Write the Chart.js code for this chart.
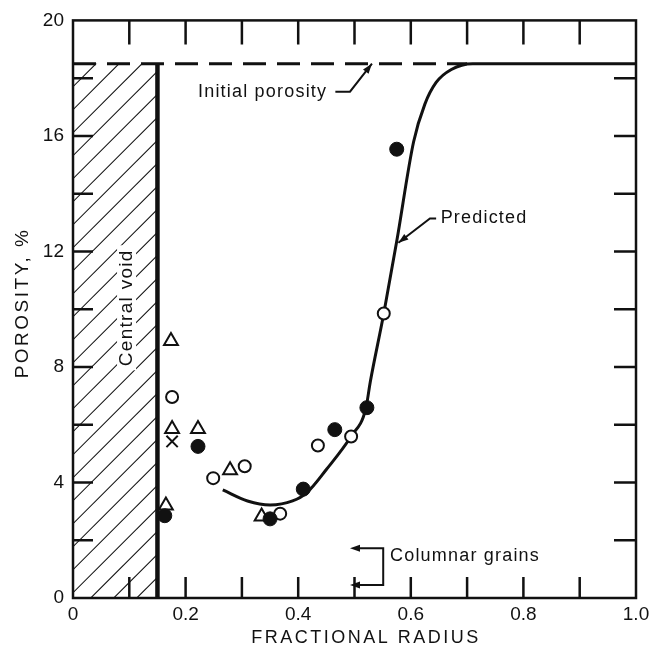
<!DOCTYPE html>
<html>
<head>
<meta charset="utf-8">
<title>Porosity vs fractional radius</title>
<script src="https://cdn.jsdelivr.net/npm/chart.js@4.4.0/dist/chart.umd.min.js"></script>
<style>
  html, body { margin: 0; padding: 0; background: #fff; }
  #wrap { width: 656px; height: 649px; }
</style>
</head>
<body>
<div id="wrap"><canvas id="porosityChart" width="656" height="649"></canvas></div>
<script>
const openCircleX = [0.176, 0.249, 0.305, 0.368, 0.435, 0.494, 0.552];
const openCircleY = [6.96, 4.15, 4.56, 2.92, 5.28, 5.59, 9.85];

const filledCircleX = [0.163, 0.222, 0.35, 0.409, 0.465, 0.522, 0.575];
const filledCircleY = [2.85, 5.25, 2.74, 3.77, 5.83, 6.59, 15.54];

const triangleX = [0.174, 0.176, 0.222, 0.165, 0.279, 0.335];
const triangleY = [8.9, 5.85, 5.85, 3.2, 4.42, 2.82];

const crossX = [0.176];
const crossY = [5.42];

// Predicted curve
const predictedX = [0.266, 0.31, 0.35, 0.39, 0.415, 0.45, 0.494, 0.52, 0.528, 0.552, 0.575, 0.605, 0.625, 0.645, 0.672, 0.71, 1.0];
const predictedY = [3.74, 3.36, 3.22, 3.36, 3.64, 4.45, 5.6, 6.55, 7.48, 9.85, 12.35, 15.8, 17.1, 17.85, 18.3, 18.5, 18.5];

const initialPorosity = 18.5;
const dashedEndX = 0.70;
const voidRadius = 0.15;

// Axis ticks
const xTicks = [0, 0.2, 0.4, 0.6, 0.8, 1.0];
const yTicks = [0, 4, 8, 12, 16, 20];
const xMinorTicks = [0.1, 0.2, 0.3, 0.4, 0.5, 0.6, 0.7, 0.8, 0.9];
const yMinorTicks = [2, 4, 6, 8, 10, 12, 14, 16, 18];

const FONT = '"Liberation Sans", Arial, Helvetica, sans-serif';
const INK = '#111';

const pts = (xs, ys) => xs.map((v, i) => ({ x: v, y: ys[i] }));

function arrowHead(ctx, fx, fy, tx, ty) {
    const a = Math.atan2(ty - fy, tx - fx);
    const len = 10, half = 3.5;
    ctx.beginPath();
    ctx.moveTo(tx, ty);
    ctx.lineTo(tx - len * Math.cos(a) + half * Math.sin(a), ty - len * Math.sin(a) - half * Math.cos(a));
    ctx.lineTo(tx - len * Math.cos(a) - half * Math.sin(a), ty - len * Math.sin(a) + half * Math.cos(a));
    ctx.closePath();
    ctx.fill();
}

// hatched central void, drawn under the data
const voidPlugin = {
    id: 'centralVoid',
    beforeDatasetsDraw(chart) {
        const { ctx, scales: { x, y } } = chart;
        const left = x.getPixelForValue(0), right = x.getPixelForValue(voidRadius);
        const top = y.getPixelForValue(initialPorosity), bottom = y.getPixelForValue(0);
        const w = right - left;
        ctx.save();
        ctx.beginPath();
        ctx.rect(left, top, w, bottom - top);
        ctx.clip();
        ctx.strokeStyle = INK;
        ctx.lineWidth = 1.1;
        for (let k = top; k < bottom + w + 23; k += 23) {
            ctx.beginPath();
            ctx.moveTo(left, k);
            ctx.lineTo(left + w + 30, k - w - 30);
            ctx.stroke();
        }
        ctx.restore();

        // Central void label on a white patch
        ctx.save();
        ctx.font = '19px ' + FONT;
        ctx.letterSpacing = '1.3px';
        ctx.textAlign = 'center';
        ctx.textBaseline = 'middle';
        ctx.translate(x.getPixelForValue(0.096), y.getPixelForValue(10.05));
        ctx.rotate(-Math.PI / 2);
        const tw = ctx.measureText('Central void').width;
        ctx.fillStyle = '#fff';
        ctx.fillRect(-tw / 2 - 4, -10, tw + 8, 19);
        ctx.fillStyle = INK;
        ctx.fillText('Central void', 0, 0);
        ctx.restore();
    }
};

// frame, inward ticks, axis titles and notes
const framePlugin = {
    id: 'frame',
    afterDraw(chart) {
        const { ctx, chartArea: a, scales: { x, y } } = chart;
        ctx.save();
        ctx.strokeStyle = INK;
        ctx.fillStyle = INK;
        ctx.lineWidth = 2.5;
        ctx.strokeRect(a.left, a.top, a.right - a.left, a.bottom - a.top);

        ctx.beginPath();
        xMinorTicks.forEach(v => {
            const px = x.getPixelForValue(v);
            ctx.moveTo(px, a.bottom); ctx.lineTo(px, a.bottom - 21);
            ctx.moveTo(px, a.top); ctx.lineTo(px, a.top + 24);
        });
        yMinorTicks.forEach(v => {
            const py = y.getPixelForValue(v);
            ctx.moveTo(a.left, py); ctx.lineTo(a.left + 20, py);
            ctx.moveTo(a.right, py); ctx.lineTo(a.right - 22, py);
        });
        ctx.stroke();

        // axis titles
        ctx.textAlign = 'center';
        ctx.textBaseline = 'middle';
        ctx.font = '18px ' + FONT;
        ctx.letterSpacing = '2.5px';
        ctx.fillText('FRACTIONAL RADIUS', 366, 638);
        ctx.save();
        ctx.font = '19px ' + FONT;
        ctx.translate(23, 303);
        ctx.rotate(-Math.PI / 2);
        ctx.fillText('POROSITY, %', 0, 0);
        ctx.restore();

        // notes
        ctx.font = '18px ' + FONT;
        ctx.letterSpacing = '1.2px';
        ctx.textAlign = 'left';
        ctx.lineWidth = 2;

        // Initial porosity
        ctx.fillText('Initial porosity', x.getPixelForValue(0.222), y.getPixelForValue(17.53));
        let p1 = [x.getPixelForValue(0.466), y.getPixelForValue(17.53)];
        let p2 = [x.getPixelForValue(0.492), y.getPixelForValue(17.53)];
        let p3 = [x.getPixelForValue(0.531), y.getPixelForValue(initialPorosity)];
        ctx.beginPath();
        ctx.moveTo(p1[0], p1[1]); ctx.lineTo(p2[0], p2[1]); ctx.lineTo(p3[0], p3[1]);
        ctx.stroke();
        arrowHead(ctx, p2[0], p2[1], p3[0], p3[1]);

        // Predicted
        ctx.fillText('Predicted', x.getPixelForValue(0.653), y.getPixelForValue(13.14));
        p1 = [x.getPixelForValue(0.645), y.getPixelForValue(13.14)];
        p2 = [x.getPixelForValue(0.634), y.getPixelForValue(13.14)];
        p3 = [x.getPixelForValue(0.578), y.getPixelForValue(12.3)];
        ctx.beginPath();
        ctx.moveTo(p1[0], p1[1]); ctx.lineTo(p2[0], p2[1]); ctx.lineTo(p3[0], p3[1]);
        ctx.stroke();
        arrowHead(ctx, p2[0], p2[1], p3[0], p3[1]);

        // Columnar grains bracket
        ctx.fillText('Columnar grains', x.getPixelForValue(0.563), y.getPixelForValue(1.47));
        const bx = x.getPixelForValue(0.551), tipX = x.getPixelForValue(0.492);
        const by1 = y.getPixelForValue(1.72), by2 = y.getPixelForValue(0.45);
        ctx.beginPath();
        ctx.moveTo(tipX + 6, by1); ctx.lineTo(bx, by1); ctx.lineTo(bx, by2); ctx.lineTo(tipX + 6, by2);
        ctx.stroke();
        arrowHead(ctx, bx, by1, tipX, by1);
        arrowHead(ctx, bx, by2, tipX, by2);
        ctx.restore();
    }
};

Chart.defaults.color = INK;
Chart.defaults.font.family = FONT;

new Chart(document.getElementById('porosityChart').getContext('2d'), {
    type: 'scatter',
    data: {
        datasets: [
            {
                label: 'Filled',
                data: pts(filledCircleX, filledCircleY),
                pointStyle: 'circle',
                pointRadius: 7,
                backgroundColor: INK,
                borderColor: INK,
                borderWidth: 1
            },
            {
                label: 'Open',
                data: pts(openCircleX, openCircleY),
                pointStyle: 'circle',
                pointRadius: 6,
                backgroundColor: '#fff',
                borderColor: INK,
                borderWidth: 2
            },
            {
                label: 'Triangles',
                data: pts(triangleX, triangleY),
                pointStyle: 'triangle',
                pointRadius: 8,
                backgroundColor: '#fff',
                borderColor: INK,
                borderWidth: 2
            },
            {
                label: 'Cross',
                data: pts(crossX, crossY),
                pointStyle: 'crossRot',
                pointRadius: 8,
                borderColor: INK,
                borderWidth: 2
            },
            {
                label: 'Predicted',
                data: pts(predictedX, predictedY),
                showLine: true,
                cubicInterpolationMode: 'monotone',
                borderColor: INK,
                borderWidth: 3,
                pointRadius: 0
            },
            {
                label: 'Initial porosity',
                data: [{ x: 0, y: initialPorosity }, { x: dashedEndX, y: initialPorosity }],
                showLine: true,
                borderColor: INK,
                borderWidth: 3,
                borderDash: [23, 11],
                pointRadius: 0
            },
            {
                label: 'Central void',
                data: [{ x: voidRadius, y: 0 }, { x: voidRadius, y: initialPorosity }],
                showLine: true,
                borderColor: INK,
                borderWidth: 4.5,
                pointRadius: 0
            }
        ]
    },
    options: {
        responsive: false,
        animation: false,
        events: [],
        layout: { padding: { left: 0, right: 20, top: 15, bottom: 0 } },
        plugins: {
            legend: { display: false },
            tooltip: { enabled: false }
        },
        scales: {
            x: {
                type: 'linear',
                min: 0,
                max: 1,
                grid: { display: false, drawTicks: false },
                border: { display: false },
                afterBuildTicks: scale => { scale.ticks = xTicks.map(v => ({ value: v })); },
                afterFit: scale => { scale.height = 51; },
                ticks: {
                    padding: 5,
                    maxRotation: 0,
                    autoSkip: false,
                    font: { size: 19 },
                    callback: v => (v === 0 ? '0' : v.toFixed(1))
                }
            },
            y: {
                type: 'linear',
                min: 0,
                max: 20,
                grid: { display: false, drawTicks: false },
                border: { display: false },
                afterBuildTicks: scale => { scale.ticks = yTicks.map(v => ({ value: v })); },
                afterFit: scale => { scale.width = 73; },
                ticks: {
                    padding: 9,
                    autoSkip: false,
                    font: { size: 19 }
                }
            }
        }
    },
    plugins: [voidPlugin, framePlugin]
});
</script>
</body>
</html>
